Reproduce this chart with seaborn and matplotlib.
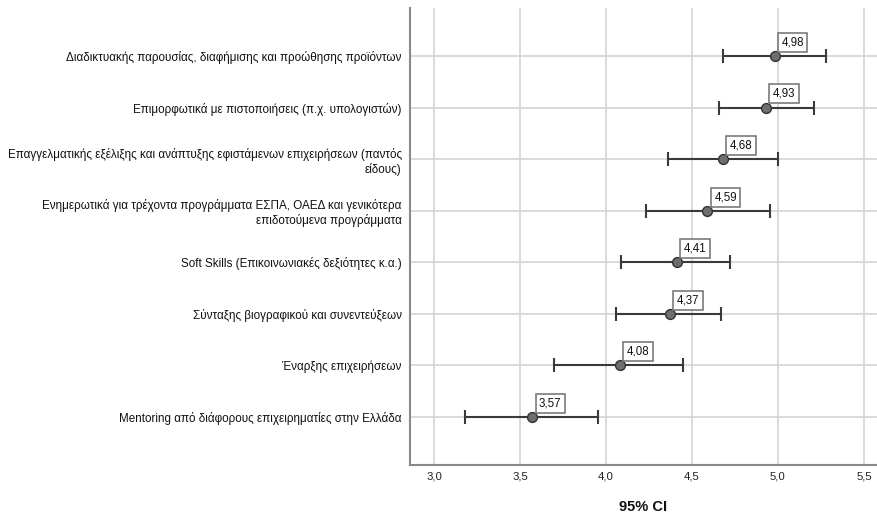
import numpy as np
import pandas as pd
import matplotlib
matplotlib.use("Agg")
import matplotlib.pyplot as plt
import seaborn as sns
from matplotlib.ticker import FuncFormatter

# data
labels = [
    "Διαδικτυακής παρουσίας, διαφήμισης και προώθησης προϊόντων",
    "Επιμορφωτικά με πιστοποιήσεις (π.χ. υπολογιστών)",
    "Επαγγελματικής εξέλιξης και ανάπτυξης εφιστάμενων επιχειρήσεων (παντός\nείδους)",
    "Ενημερωτικά για τρέχοντα προγράμματα ΕΣΠΑ, ΟΑΕΔ και γενικότερα\nεπιδοτούμενα προγράμματα",
    "Soft Skills (Επικοινωνιακές δεξιότητες κ.α.)",
    "Σύνταξης βιογραφικού και συνεντεύξεων",
    "Έναρξης επιχειρήσεων",
    "Mentoring από διάφορους επιχειρηματίες στην Ελλάδα",
]
means = [4.98, 4.93, 4.68, 4.59, 4.41, 4.37, 4.08, 3.57]
ci_low = [4.68, 4.66, 4.36, 4.23, 4.09, 4.06, 3.70, 3.18]
ci_high = [5.28, 5.21, 5.00, 4.955, 4.72, 4.67, 4.45, 3.955]
xticks = [3.0, 3.5, 4.0, 4.5, 5.0, 5.5]

df = pd.DataFrame({"label": labels, "mean": means, "lo": ci_low, "hi": ci_high})
df["pos"] = np.arange(len(df))

sns.set_theme(style="white")
plt.rcParams["font.family"] = ["Liberation Sans", "DejaVu Sans"]

fig = plt.figure(figsize=(8.77, 5.19), dpi=100)
ax = fig.add_axes([410 / 877, 54 / 519, 467 / 877, 457 / 519])

# confidence intervals
ax.errorbar(df["mean"], df["pos"],
            xerr=[df["mean"] - df["lo"], df["hi"] - df["mean"]],
            fmt="none", ecolor="#3a3a3a", elinewidth=1.5, capsize=5, capthick=1.5, zorder=3)

# means
sns.scatterplot(data=df, x="mean", y="pos", ax=ax, s=50, color="#6e6e6e",
                edgecolor="#333333", linewidth=1.0, zorder=4, legend=False)

for _, r in df.iterrows():
    ax.annotate(f"{r['mean']:.2f}".replace(".", ","), (r["mean"], r["pos"]),
                xytext=(5, 5.5), textcoords="offset points", ha="left", va="bottom",
                fontsize=8.3, color="#111111", zorder=5,
                bbox=dict(boxstyle="square,pad=0.3", fc="white", ec="#7a7a7a", lw=1.2))

ax.set_xlim(2.86, 5.576)
ax.set_ylim(7.93, -0.93)
ax.set_xticks(xticks)
ax.xaxis.set_major_formatter(FuncFormatter(lambda v, p: f"{v:.1f}".replace(".", ",")))
ax.set_yticks(df["pos"])
ax.set_yticklabels(df["label"], fontsize=8.35, color="#111111", multialignment="right")
ax.tick_params(axis="x", length=0, pad=5, labelsize=8.2, labelcolor="#222222")
ax.tick_params(axis="y", length=0, pad=6)

ax.grid(True, color="#d4d4d4", linewidth=1.2)
ax.set_axisbelow(True)
for s in ["top", "right"]:
    ax.spines[s].set_visible(False)
for s in ["left", "bottom"]:
    ax.spines[s].set_color("#8a8a8a")
    ax.spines[s].set_linewidth(1.5)

ax.set_ylabel("")
ax.set_xlabel("95% CI", fontsize=10.5, fontweight="bold", color="#111111", labelpad=13)

fig.savefig("out.png", dpi=100)
